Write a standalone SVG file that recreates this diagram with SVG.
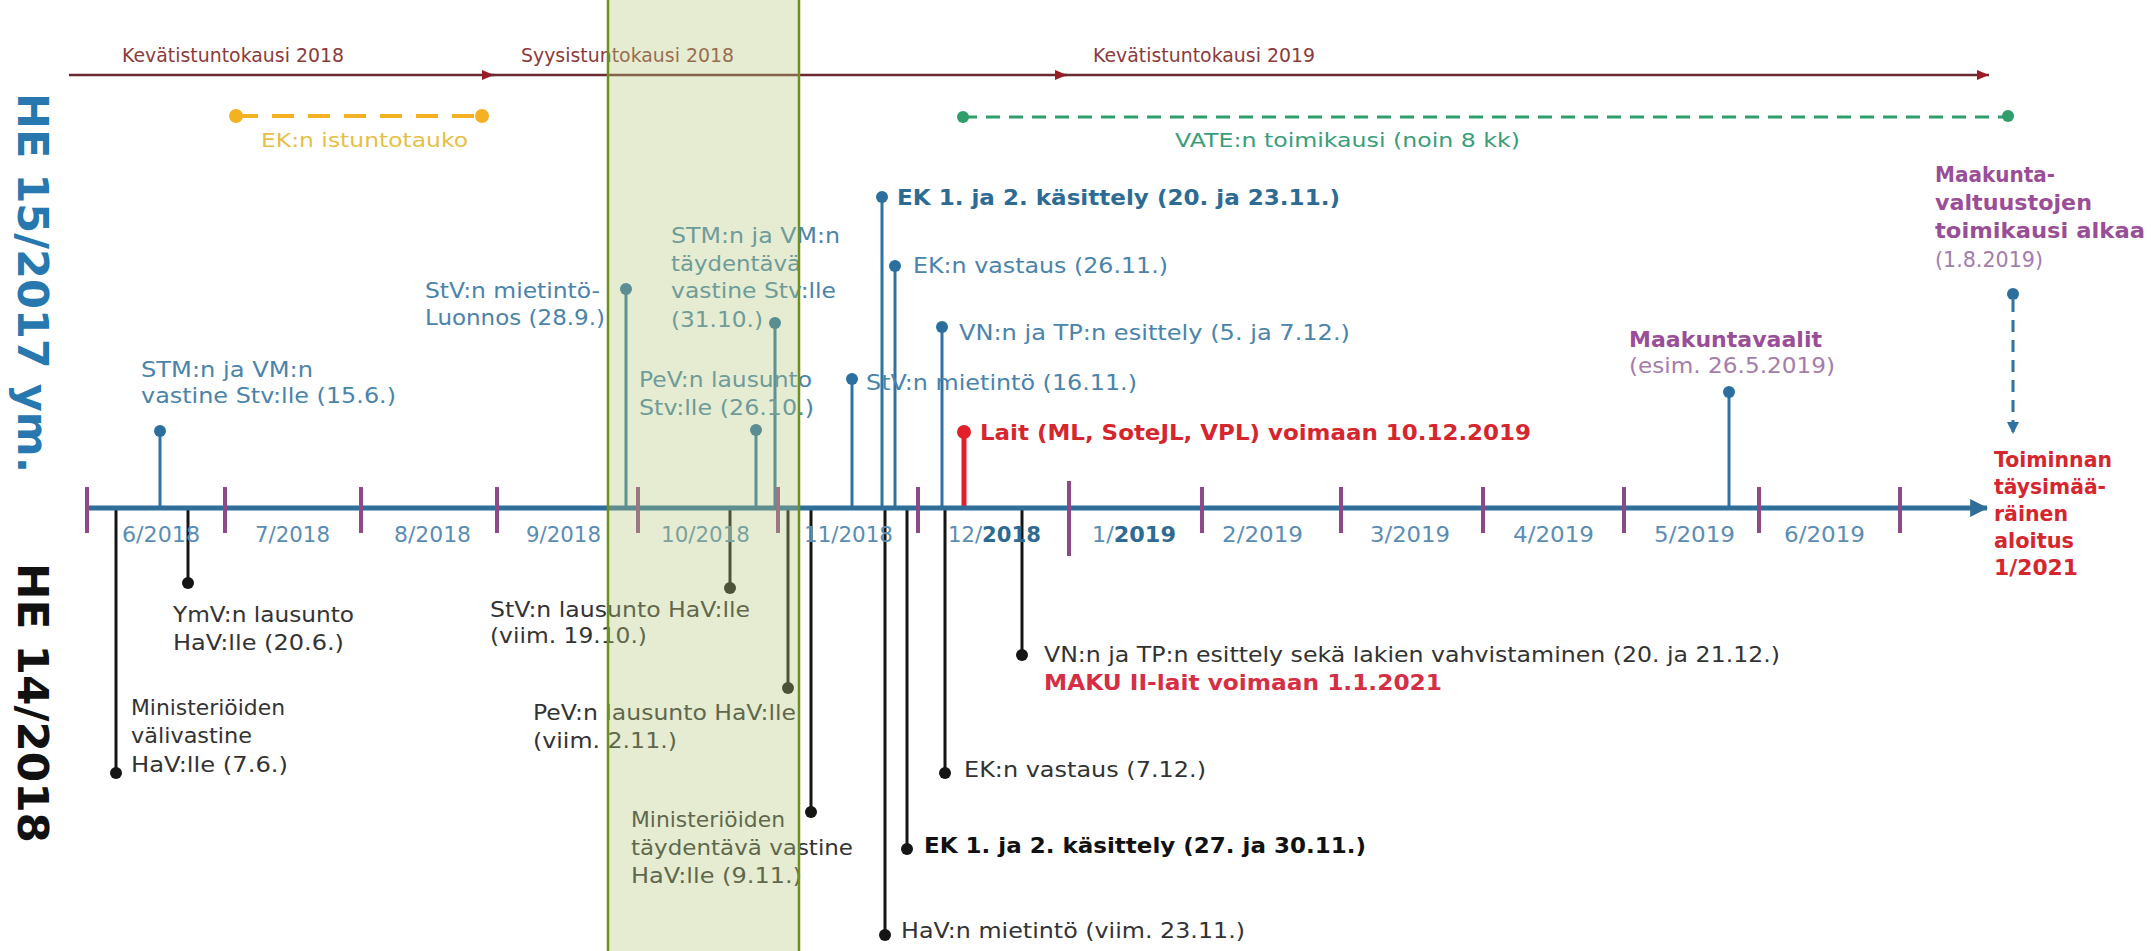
<svg xmlns="http://www.w3.org/2000/svg" width="2151" height="951" viewBox="0 0 2151 951">
<defs>
<style>
text{font-family:"DejaVu Sans",Verdana,"Liberation Sans",sans-serif;}
.ses{font-size:20px;fill:#8b3b3b;}
.ev{font-size:21px;fill:#4a84aa;}
.evd{font-size:21px;fill:#2d6b95;font-weight:bold;}
.lo{font-size:21px;fill:#333333;}
.lob{font-size:21px;fill:#111111;font-weight:bold;}
.red{font-size:21px;fill:#d6262d;font-weight:bold;}
.pur{font-size:21px;fill:#9a4e98;font-weight:bold;}
.purl{font-size:21px;fill:#a57cab;}
.mo{font-size:21px;fill:#5a8db3;}
.mob{font-weight:bold;fill:#2f6a95;}
.stemU{stroke:#2e73a3;stroke-width:3;fill:none;}
.stemL{stroke:#151515;stroke-width:3;fill:none;}
.dotU{fill:#2a6f9e;}
.dotL{fill:#151515;}
.tick{stroke:#8e4a88;stroke-width:4;}
</style>
<marker id="sesArrow" viewBox="0 0 12 10" refX="12" refY="5" markerWidth="12" markerHeight="10" markerUnits="userSpaceOnUse" orient="auto">
<path d="M0,0 L12,5 L0,10 z" fill="#9b1c24"/>
</marker>
<marker id="axArrow" viewBox="0 0 16 16" refX="15" refY="8" markerWidth="18" markerHeight="18" markerUnits="userSpaceOnUse" orient="auto">
<path d="M0,0 L16,8 L0,16 z" fill="#2f6e99"/>
</marker>
<marker id="dArrow" viewBox="0 0 12 12" refX="11" refY="6" markerWidth="12" markerHeight="12" markerUnits="userSpaceOnUse" orient="auto">
<path d="M0,0 L12,6 L0,12 z" fill="#2e73a3"/>
</marker>
</defs>
<rect x="0" y="0" width="2151" height="951" fill="#ffffff"/>

<!-- session timeline -->
<g id="sessions">
<line x1="69" y1="75" x2="494" y2="75" stroke="#6b2a31" stroke-width="2.5" marker-end="url(#sesArrow)"/>
<line x1="490" y1="75" x2="1067" y2="75" stroke="#6b2a31" stroke-width="2.5" marker-end="url(#sesArrow)"/>
<line x1="1063" y1="75" x2="1989" y2="75" stroke="#6b2a31" stroke-width="2.5" marker-end="url(#sesArrow)"/>
<text class="ses" x="122" y="62" textLength="222" lengthAdjust="spacingAndGlyphs">Kevätistuntokausi 2018</text>
<text class="ses" x="521" y="62" textLength="213" lengthAdjust="spacingAndGlyphs">Syysistuntokausi 2018</text>
<text class="ses" x="1093" y="62" textLength="222" lengthAdjust="spacingAndGlyphs">Kevätistuntokausi 2019</text>
</g>

<g id="ek-istuntotauko">
<line x1="236" y1="116" x2="482" y2="116" stroke="#f4b223" stroke-width="4" stroke-dasharray="22 14"/>
<circle cx="236" cy="116" r="7" fill="#f4b223"/>
<circle cx="482" cy="116" r="7" fill="#f4b223"/>
<text x="261" y="147" textLength="207" lengthAdjust="spacingAndGlyphs" style="font-size:20px;fill:#e6bf45">EK:n istuntotauko</text>
</g>

<g id="vate-toimikausi">
<line x1="963" y1="117" x2="2008" y2="117" stroke="#2e9e6a" stroke-width="3" stroke-dasharray="14 9"/>
<circle cx="963" cy="117" r="6" fill="#2e9e6a"/>
<circle cx="2008" cy="116" r="6" fill="#2e9e6a"/>
<text x="1175" y="147" textLength="345" lengthAdjust="spacingAndGlyphs" style="font-size:20px;fill:#3a9e7a">VATE:n toimikausi  (noin 8 kk)</text>
</g>

<!-- side labels -->
<g id="he15">
<text transform="translate(18 93) rotate(90)" textLength="380" lengthAdjust="spacingAndGlyphs" style="font-size:42px;font-weight:bold;fill:#2878b0">HE 15/2017 ym.</text>
</g>
<g id="he14">
<text transform="translate(18 563) rotate(90)" textLength="280" lengthAdjust="spacingAndGlyphs" style="font-size:42px;font-weight:bold;fill:#111111">HE 14/2018</text>
</g>

<!-- connectors (stems) -->
<g id="connectors">
<line class="stemU" x1="160" y1="431" x2="160" y2="508"/>
<line class="stemU" x1="626" y1="289" x2="626" y2="508"/>
<line class="stemU" x1="775" y1="323" x2="775" y2="508"/>
<line class="stemU" x1="756" y1="430" x2="756" y2="508"/>
<line class="stemU" x1="852" y1="379" x2="852" y2="508"/>
<line class="stemU" x1="882" y1="197" x2="882" y2="508"/>
<line class="stemU" x1="895" y1="266" x2="895" y2="508"/>
<line class="stemU" x1="942" y1="327" x2="942" y2="508"/>
<line x1="964" y1="432" x2="964" y2="508" stroke="#e0202a" stroke-width="5"/>
<line class="stemU" x1="1729" y1="392" x2="1729" y2="508"/>
<line x1="2013" y1="300" x2="2013" y2="433" stroke="#2e73a3" stroke-width="3" stroke-dasharray="12 8" marker-end="url(#dArrow)"/>
<line class="stemL" x1="116" y1="508" x2="116" y2="773"/>
<line class="stemL" x1="188" y1="508" x2="188" y2="583"/>
<line class="stemL" x1="730" y1="508" x2="730" y2="588"/>
<line class="stemL" x1="788" y1="508" x2="788" y2="688"/>
<line class="stemL" x1="811" y1="508" x2="811" y2="812"/>
<line class="stemL" x1="885" y1="508" x2="885" y2="935"/>
<line class="stemL" x1="907" y1="508" x2="907" y2="849"/>
<line class="stemL" x1="945" y1="508" x2="945" y2="773"/>
<line class="stemL" x1="1022" y1="508" x2="1022" y2="655"/>
</g>

<!-- axis -->
<g id="axis">
<line x1="87" y1="508" x2="1987" y2="508" stroke="#2f6e99" stroke-width="5" marker-end="url(#axArrow)"/>
<line class="tick" x1="87" y1="487" x2="87" y2="533"/>
<line class="tick" x1="225" y1="487" x2="225" y2="533"/>
<line class="tick" x1="361" y1="487" x2="361" y2="533"/>
<line class="tick" x1="497" y1="487" x2="497" y2="533"/>
<line class="tick" x1="638" y1="487" x2="638" y2="533"/>
<line class="tick" x1="778" y1="487" x2="778" y2="533"/>
<line class="tick" x1="918" y1="487" x2="918" y2="533"/>
<line class="tick" x1="1069" y1="481" x2="1069" y2="556" stroke-width="5"/>
<line class="tick" x1="1202" y1="487" x2="1202" y2="533"/>
<line class="tick" x1="1341" y1="487" x2="1341" y2="533"/>
<line class="tick" x1="1483" y1="487" x2="1483" y2="533"/>
<line class="tick" x1="1624" y1="487" x2="1624" y2="533"/>
<line class="tick" x1="1759" y1="487" x2="1759" y2="533"/>
<line class="tick" x1="1900" y1="487" x2="1900" y2="533"/>
<text class="mo" x="122" y="542" textLength="78" lengthAdjust="spacingAndGlyphs">6/2018</text>
<text class="mo" x="255" y="542" textLength="75" lengthAdjust="spacingAndGlyphs">7/2018</text>
<text class="mo" x="394" y="542" textLength="77" lengthAdjust="spacingAndGlyphs">8/2018</text>
<text class="mo" x="526" y="542" textLength="75" lengthAdjust="spacingAndGlyphs">9/2018</text>
<text class="mo" x="661" y="542" textLength="89" lengthAdjust="spacingAndGlyphs">10/2018</text>
<text class="mo" x="804" y="542" textLength="89" lengthAdjust="spacingAndGlyphs">11/2018</text>
<text class="mo" x="948" y="542" textLength="93" lengthAdjust="spacingAndGlyphs">12/<tspan class="mob">2018</tspan></text>
<text class="mo" x="1092" y="542" textLength="84" lengthAdjust="spacingAndGlyphs">1/<tspan class="mob">2019</tspan></text>
<text class="mo" x="1222" y="542" textLength="81" lengthAdjust="spacingAndGlyphs">2/2019</text>
<text class="mo" x="1370" y="542" textLength="80" lengthAdjust="spacingAndGlyphs">3/2019</text>
<text class="mo" x="1513" y="542" textLength="81" lengthAdjust="spacingAndGlyphs">4/2019</text>
<text class="mo" x="1654" y="542" textLength="81" lengthAdjust="spacingAndGlyphs">5/2019</text>
<text class="mo" x="1784" y="542" textLength="81" lengthAdjust="spacingAndGlyphs">6/2019</text>
</g>

<!-- upper events -->
<g id="u-stm-vastine">
<circle class="dotU" cx="160" cy="431" r="6"/>
<text class="ev" x="141" y="377" textLength="172" lengthAdjust="spacingAndGlyphs">STM:n ja VM:n</text>
<text class="ev" x="141" y="403" textLength="255" lengthAdjust="spacingAndGlyphs">vastine Stv:lle (15.6.)</text>
</g>
<g id="u-stv-luonnos">
<circle class="dotU" cx="626" cy="289" r="6"/>
<text class="ev" x="425" y="298" textLength="175" lengthAdjust="spacingAndGlyphs">StV:n mietintö-</text>
<text class="ev" x="425" y="325" textLength="180" lengthAdjust="spacingAndGlyphs">Luonnos (28.9.)</text>
</g>
<g id="u-stm-taydentava">
<circle class="dotU" cx="775" cy="323" r="6"/>
<text class="ev" x="671" y="243" textLength="169" lengthAdjust="spacingAndGlyphs">STM:n ja VM:n</text>
<text class="ev" x="671" y="271" textLength="130" lengthAdjust="spacingAndGlyphs">täydentävä</text>
<text class="ev" x="671" y="298" textLength="165" lengthAdjust="spacingAndGlyphs">vastine Stv:lle</text>
<text class="ev" x="671" y="327" textLength="92" lengthAdjust="spacingAndGlyphs">(31.10.)</text>
</g>
<g id="u-pev-lausunto">
<circle class="dotU" cx="756" cy="430" r="6"/>
<text class="ev" x="639" y="387" textLength="173" lengthAdjust="spacingAndGlyphs">PeV:n lausunto</text>
<text class="ev" x="639" y="415" textLength="175" lengthAdjust="spacingAndGlyphs">Stv:lle (26.10.)</text>
</g>
<g id="u-stv-mietinto">
<circle class="dotU" cx="852" cy="379" r="6"/>
<text class="ev" x="866" y="390" textLength="271" lengthAdjust="spacingAndGlyphs">StV:n mietintö (16.11.)</text>
</g>
<g id="u-ek-kasittely">
<circle class="dotU" cx="882" cy="197" r="6"/>
<text class="evd" x="897" y="205" textLength="443" lengthAdjust="spacingAndGlyphs">EK 1. ja 2. käsittely (20. ja 23.11.)</text>
</g>
<g id="u-ek-vastaus">
<circle class="dotU" cx="895" cy="266" r="6"/>
<text class="ev" x="913" y="273" textLength="255" lengthAdjust="spacingAndGlyphs">EK:n vastaus (26.11.)</text>
</g>
<g id="u-vn-tp">
<circle class="dotU" cx="942" cy="327" r="6"/>
<text class="ev" x="959" y="340" textLength="391" lengthAdjust="spacingAndGlyphs">VN:n ja TP:n esittely (5. ja 7.12.)</text>
</g>
<g id="u-lait">
<circle cx="964" cy="432" r="7" fill="#e0202a"/>
<text class="red" x="980" y="440" textLength="551" lengthAdjust="spacingAndGlyphs">Lait (ML, SoteJL, VPL) voimaan 10.12.2019</text>
</g>
<g id="u-maakuntavaalit">
<circle class="dotU" cx="1729" cy="392" r="6"/>
<text class="pur" x="1629" y="347" textLength="193" lengthAdjust="spacingAndGlyphs">Maakuntavaalit</text>
<text class="purl" x="1629" y="373" textLength="206" lengthAdjust="spacingAndGlyphs">(esim. 26.5.2019)</text>
</g>
<g id="u-valtuustot">
<circle class="dotU" cx="2013" cy="294" r="6"/>
<text class="pur" x="1935" y="182" textLength="120" lengthAdjust="spacingAndGlyphs">Maakunta-</text>
<text class="pur" x="1935" y="210" textLength="157" lengthAdjust="spacingAndGlyphs">valtuustojen</text>
<text class="pur" x="1935" y="238" textLength="210" lengthAdjust="spacingAndGlyphs">toimikausi alkaa</text>
<text class="purl" x="1935" y="267" textLength="108" lengthAdjust="spacingAndGlyphs">(1.8.2019)</text>
</g>
<g id="toiminnan-aloitus">
<text class="red" x="1994" y="467" textLength="118" lengthAdjust="spacingAndGlyphs">Toiminnan</text>
<text class="red" x="1994" y="494" textLength="112" lengthAdjust="spacingAndGlyphs">täysimää-</text>
<text class="red" x="1994" y="521" textLength="74" lengthAdjust="spacingAndGlyphs">räinen</text>
<text class="red" x="1994" y="548" textLength="80" lengthAdjust="spacingAndGlyphs">aloitus</text>
<text class="red" x="1994" y="575" textLength="84" lengthAdjust="spacingAndGlyphs">1/2021</text>
</g>

<!-- lower events -->
<g id="l-ministeriot-vali">
<circle class="dotL" cx="116" cy="773" r="6"/>
<text class="lo" x="131" y="715" textLength="154" lengthAdjust="spacingAndGlyphs">Ministeriöiden</text>
<text class="lo" x="131" y="743" textLength="121" lengthAdjust="spacingAndGlyphs">välivastine</text>
<text class="lo" x="131" y="772" textLength="157" lengthAdjust="spacingAndGlyphs">HaV:lle (7.6.)</text>
</g>
<g id="l-ymv">
<circle class="dotL" cx="188" cy="583" r="6"/>
<text class="lo" x="173" y="622" textLength="181" lengthAdjust="spacingAndGlyphs">YmV:n lausunto</text>
<text class="lo" x="173" y="650" textLength="171" lengthAdjust="spacingAndGlyphs">HaV:lle (20.6.)</text>
</g>
<g id="l-stv-lausunto">
<circle class="dotL" cx="730" cy="588" r="6"/>
<text class="lo" x="490" y="617" textLength="260" lengthAdjust="spacingAndGlyphs">StV:n lausunto HaV:lle</text>
<text class="lo" x="490" y="643" textLength="157" lengthAdjust="spacingAndGlyphs">(viim. 19.10.)</text>
</g>
<g id="l-pev-lausunto">
<circle class="dotL" cx="788" cy="688" r="6"/>
<text class="lo" x="533" y="720" textLength="263" lengthAdjust="spacingAndGlyphs">PeV:n lausunto HaV:lle</text>
<text class="lo" x="533" y="748" textLength="144" lengthAdjust="spacingAndGlyphs">(viim. 2.11.)</text>
</g>
<g id="l-ministeriot-tayd">
<circle class="dotL" cx="811" cy="812" r="6"/>
<text class="lo" x="631" y="827" textLength="154" lengthAdjust="spacingAndGlyphs">Ministeriöiden</text>
<text class="lo" x="631" y="855" textLength="222" lengthAdjust="spacingAndGlyphs">täydentävä vastine</text>
<text class="lo" x="631" y="883" textLength="171" lengthAdjust="spacingAndGlyphs">HaV:lle (9.11.)</text>
</g>
<g id="l-hav-mietinto">
<circle class="dotL" cx="885" cy="935" r="6"/>
<text class="lo" x="901" y="938" textLength="344" lengthAdjust="spacingAndGlyphs">HaV:n mietintö (viim. 23.11.)</text>
</g>
<g id="l-ek-kasittely">
<circle class="dotL" cx="907" cy="849" r="6"/>
<text class="lob" x="924" y="853" textLength="442" lengthAdjust="spacingAndGlyphs">EK 1. ja 2. käsittely (27. ja 30.11.)</text>
</g>
<g id="l-ek-vastaus">
<circle class="dotL" cx="945" cy="773" r="6"/>
<text class="lo" x="964" y="777" textLength="242" lengthAdjust="spacingAndGlyphs">EK:n vastaus (7.12.)</text>
</g>
<g id="l-vn-tp">
<circle class="dotL" cx="1022" cy="655" r="6"/>
<text class="lo" x="1044" y="662" textLength="736" lengthAdjust="spacingAndGlyphs">VN:n ja TP:n esittely sekä lakien vahvistaminen (20. ja 21.12.)</text>
<text x="1044" y="690" textLength="398" lengthAdjust="spacingAndGlyphs" style="font-size:21px;font-weight:bold;fill:#d62f45">MAKU II-lait voimaan 1.1.2021</text>
</g>

<!-- autumn session highlight -->
<g id="syysistunto-highlight">
<rect x="608" y="-2" width="191" height="955" fill="#b5c97a" fill-opacity="0.35" stroke="#6f8f1f" stroke-width="2.5"/>
</g>
</svg>
